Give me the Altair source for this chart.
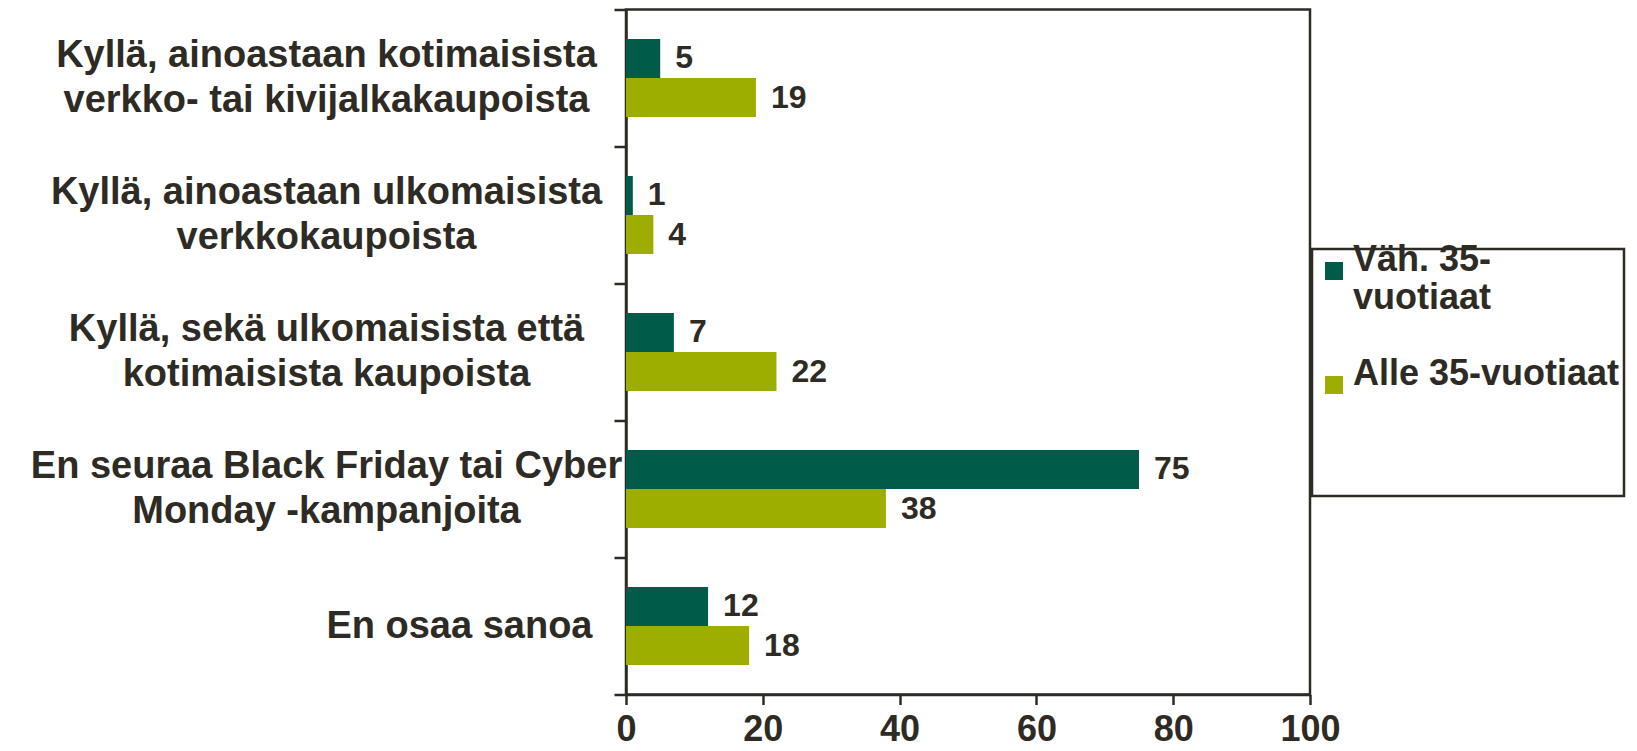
import altair as alt
import pandas as pd

categories = [
    "Kyllä, ainoastaan kotimaisista|verkko- tai kivijalkakaupoista",
    "Kyllä, ainoastaan ulkomaisista|verkkokaupoista",
    "Kyllä, sekä ulkomaisista että|kotimaisista kaupoista",
    "En seuraa Black Friday tai Cyber|Monday -kampanjoita",
    "En osaa sanoa",
]
series = ["Väh. 35-vuotiaat", "Alle 35-vuotiaat"]
vah = [5, 1, 7, 75, 12]
alle = [19, 4, 22, 38, 18]
colors = ["#005c48", "#9dae00"]
x_ticks = [0, 20, 40, 60, 80, 100]

rows = []
for c, a, b in zip(categories, vah, alle):
    rows.append({"cat": c, "series": series[0], "value": a})
    rows.append({"cat": c, "series": series[1], "value": b})
df = pd.DataFrame(rows)

INK = "#2e2b25"
FONT = "Liberation Sans"
SINGLE = "datum.value == 'En osaa sanoa'"

y_enc = alt.Y(
    "cat:N",
    sort=categories,
    scale=alt.Scale(paddingInner=0, paddingOuter=0),
    axis=alt.Axis(
        title=None,
        tickBand="extent",
        tickSize=12,
        tickWidth=2.5,
        tickColor=INK,
        domainColor=INK,
        domainWidth=2.5,
        labelExpr="split(datum.label, '|')",
        labelFont=FONT,
        labelFontSize=38,
        labelFontWeight="bold",
        labelColor=INK,
        labelLineHeight=45,
        labelOffset=-22.5,
        labelLimit=2000,
        labelBaseline={"condition": {"test": SINGLE, "value": "line-top"}, "value": "middle"},
        labelAlign={"condition": {"test": SINGLE, "value": "right"}, "value": "center"},
        labelPadding={"condition": {"test": SINGLE, "value": 22}, "value": 288},
    ),
)
x_enc = alt.X(
    "value:Q",
    scale=alt.Scale(domain=[0, 100], nice=False),
    axis=alt.Axis(
        title=None,
        values=x_ticks,
        grid=False,
        tickSize=10,
        tickWidth=2.5,
        tickColor=INK,
        domainColor=INK,
        domainWidth=2.5,
        labelFont=FONT,
        labelFontSize=36,
        labelFontWeight="bold",
        labelColor=INK,
        labelPadding=8,
        labelFlush=False,
    ),
)
color_enc = alt.Color(
    "series:N",
    scale=alt.Scale(domain=series, range=colors),
    legend=alt.Legend(
        orient="none",
        legendX=686,
        legendY=239.5,
        title=" ",
        titleOrient="bottom",
        titleFontSize=20,
        titlePadding=78,
        symbolType="square",
        symbolSize=324,
        symbolStrokeWidth=0,
        labelFont=FONT,
        labelFontSize=36,
        labelFontWeight="bold",
        labelColor=INK,
        labelOffset=1,
        labelBaseline="alphabetic",
        labelLimit=2000,
        labelExpr="datum.label == 'Väh. 35-vuotiaat' ? ['Väh. 35-', 'vuotiaat'] : datum.label",
        padding=4,
        rowPadding=40,
        strokeColor=INK,
    ),
)
yoff = alt.YOffset("series:N", sort=series, scale=alt.Scale(paddingOuter=0.756))

bars = alt.Chart(df).mark_bar().encode(y=y_enc, x=x_enc, color=color_enc, yOffset=yoff)
labels = alt.Chart(df).mark_text(
    align="left", baseline="middle", dx=15, font=FONT, fontSize=32, fontWeight="bold", color=INK
).encode(y=alt.Y("cat:N", sort=categories), x="value:Q", yOffset=yoff, text=alt.Text("value:Q", format="d"))

chart = (
    alt.layer(bars, labels)
    .properties(
        width=684,
        height=685,
        padding={"left": 618, "top": 1.5, "right": 319, "bottom": 56.5},
        autosize=alt.AutoSizeParams(type="none"),
    )
    .configure_view(stroke=INK, strokeWidth=2.5)
    .configure_legend(strokeWidth=2.5)
)

chart.save("out.html", embed_options={"renderer": "svg", "actions": False})
